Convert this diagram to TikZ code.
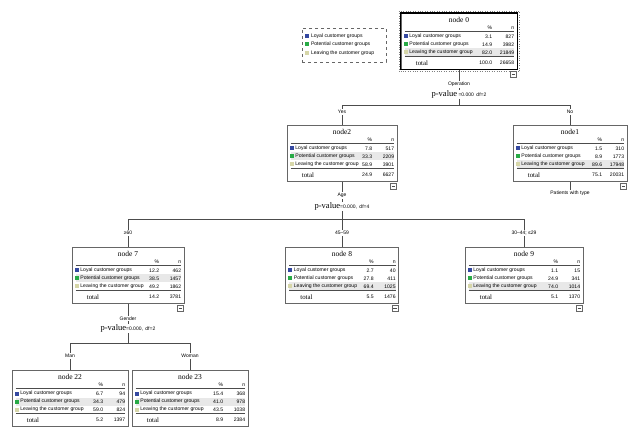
\documentclass[tikz,border=0pt]{standalone}
\usepackage{fontspec}
\setmainfont{Liberation Serif}
\setsansfont{Liberation Sans}
\usepackage{tikz}
\usetikzlibrary{positioning, calc}
\definecolor{cat1}{RGB}{52,72,160}
\definecolor{cat2}{RGB}{40,170,70}
\definecolor{cat3}{RGB}{214,214,168}
\definecolor{rowgrey}{RGB}{232,232,232}
\tikzstyle{treebox} = [rectangle, draw=black!60, line width=0.6pt,
minimum height=56pt, inner sep=0pt]
\tikzstyle{cell} = [font=\sffamily\fontsize{5.1}{6}\selectfont, inner sep=0pt]
\tikzstyle{nodetitle} = [font=\rmfamily\fontsize{7.5}{8}\selectfont, inner sep=0pt]
\tikzstyle{totaltext} = [font=\rmfamily\fontsize{6.8}{7}\selectfont, inner sep=0pt]
\tikzstyle{swatch} = [rectangle, minimum size=4pt, inner sep=0pt]
\tikzstyle{minusbox} = [rectangle, draw=black!60, fill=white, minimum size=6pt, inner sep=0pt]
\tikzstyle{conn} = [draw=black!70, line width=0.5pt]
\tikzstyle{edgetext} = [font=\sffamily\fontsize{5}{6}\selectfont, fill=white, inner sep=1pt]
\tikzstyle{pvalue} = [font=\rmfamily\fontsize{8.5}{9}\selectfont, fill=white, inner sep=1pt]
\newcommand{\catname}[1]{\ifcase#1\or Loyal customer groups\or Potential customer groups\or Leaving the customer group\fi}
% one box of the tree: name, (centre x, top y), width, title, rows, total, grey row
\newcommand{\treenode}[7]{%
  \node[treebox, minimum width=#3, anchor=north] (#1) at #2 {};
  \fill[rowgrey] ($(#1.north west)+(4,{11.5+8*#7})$) rectangle ($(#1.north east)+(-3,{19.5+8*#7})$);
  \node[nodetitle] at ($(#1.north)+(0,7)$) {#4};
  \node[cell, anchor=east] at ($(#1.north east)+(-25,15)$) {\%};
  \node[cell, anchor=east] at ($(#1.north east)+(-3,15)$) {n};
  \draw[black!70, line width=0.4pt] ($(#1.north west)+(4,18.5)$) -- ($(#1.north east)+(-3,18.5)$);
  \foreach \pc/\nc [count=\i] in {#5} {
    \node[swatch, fill=cat\i] at ($(#1.north west)+(5,{15.5+8*\i})$) {};
    \node[cell, anchor=west] at ($(#1.north west)+(8.5,{15.5+8*\i})$) {\catname{\i}};
    \node[cell, anchor=east] at ($(#1.north east)+(-25,{15.5+8*\i})$) {\pc};
    \node[cell, anchor=east] at ($(#1.north east)+(-3,{15.5+8*\i})$) {\nc};
  }
  \draw[black!70, line width=0.4pt] ($(#1.north west)+(4,43.5)$) -- ($(#1.north east)+(-3,43.5)$);
  \foreach \tp/\tn in {#6} {
    \node[totaltext, anchor=west] at ($(#1.north west)+(15,50)$) {total};
    \node[cell, anchor=east] at ($(#1.north east)+(-25,50)$) {\tp};
    \node[cell, anchor=east] at ($(#1.north east)+(-3,50)$) {\tn};
  }
}
\newcommand{\collapse}[1]{%
  \node[minusbox] (#1-m) at ($(#1.south east)+(-4,5)$) {};
  \draw[black!70] ($(#1-m.west)+(1.5,0)$) -- ($(#1-m.east)+(-1.5,0)$);
}
\newcommand{\pval}[1]{p-value{\sffamily\fontsize{5}{6}\selectfont #1}}

\begin{document}
\begin{tikzpicture}[x=1pt, y=-1pt]
\useasboundingbox (0,0) rectangle (637,438);

% legend
\node[rectangle, draw=black!60, dashed, minimum width=84pt, minimum height=34pt] (legend) at (344,45) {};
\foreach \i in {1,2,3} {
  \node[swatch, fill=cat\i] at ($(legend.north west)+(5,{-0.5+8.5*\i})$) {};
  \node[cell, anchor=west] at ($(legend.north west)+(9,{-0.5+8.5*\i})$) {\catname{\i}};
}

% boxes
\treenode{n0}{(459,13)}{116pt}{node 0}{3.1/827,14.9/3982,82.0/21849}{100.0/26658}{3}
\treenode{n2}{(342,125)}{110pt}{node2}{7.8/517,33.3/2209,58.9/3901}{24.9/6627}{2}
\treenode{n1}{(570,125)}{114pt}{node1}{1.5/310,8.9/1773,89.6/17948}{75.1/20031}{3}
\treenode{n7}{(128,247)}{112pt}{node 7}{12.2/462,38.5/1457,49.2/1862}{14.2/3781}{2}
\treenode{n8}{(342,247)}{113pt}{node 8}{2.7/40,27.8/411,69.4/1025}{5.5/1476}{3}
\treenode{n9}{(524,247)}{118pt}{node 9}{1.1/15,24.9/341,74.0/1014}{5.1/1370}{3}
\treenode{n22}{(70,370)}{116pt}{node 22}{6.7/94,34.3/479,59.0/824}{5.2/1397}{2}
\treenode{n23}{(190,370)}{116pt}{node 23}{15.4/368,41.0/978,43.5/1038}{8.9/2384}{2}

% selected root
\draw[line width=1.3pt] (n0.north west) rectangle (n0.south east);
\draw[dotted, black!50] ($(n0.north west)+(-2,-2)$) rectangle ($(n0.south east)+(2,2)$);

% connectors
\path (n0.south) ++(0,36) coordinate (j0);
\path (n2.south) ++(0,38) coordinate (j2);
\path (n7.south) ++(0,40) coordinate (j7);
\draw[conn] (n0.south) -- (j0);
\draw[conn] (n2.north) |- (j0) -| (n1.north);
\draw[conn] (n2.south) -- (j2);
\draw[conn] (n7.north) |- (j2) -| (n9.north);
\draw[conn] (n8.north) -- (j2);
\draw[conn] (n7.south) -- (j7);
\draw[conn] (n22.north) |- (j7) -| (n23.north);
\node[edgetext, fill=none] (n1split) at ($(n1.south)+(0,12)$) {Patients with type};
\draw[conn] (n1.south) -- (n1split.north);

% split labels
\node[edgetext] at ($(n0.south)+(0,15)$) {Operation};
\node[pvalue] at ($(n0.south)+(0,25)$) {\pval{ =0.000\enspace df=2}};
\node[edgetext] at ($(n2.south)+(0,14)$) {Age};
\node[pvalue] at ($(n2.south)+(0,25)$) {\pval{=0.000,\enspace df=4}};
\node[edgetext] at ($(n7.south)+(0,15)$) {Gender};
\node[pvalue] at ($(n7.south)+(0,25)$) {\pval{=0.000,\enspace df=2}};

% branch labels
\node[edgetext] at ($(n2.north)+(0,-13)$) {Yes};
\node[edgetext] at ($(n1.north)+(0,-13)$) {No};
\node[edgetext] at ($(n7.north)+(0,-14)$) {≥60};
\node[edgetext] at ($(n8.north)+(0,-14)$) {45–59};
\node[edgetext] at ($(n9.north)+(0,-14)$) {30–44; ≤29};
\node[edgetext] at ($(n22.north)+(0,-14)$) {Man};
\node[edgetext] at ($(n23.north)+(0,-14)$) {Woman};

% collapse buttons
\collapse{n0}
\collapse{n2}
\collapse{n1}
\collapse{n7}
\collapse{n8}
\collapse{n9}
\end{tikzpicture}
\end{document}
